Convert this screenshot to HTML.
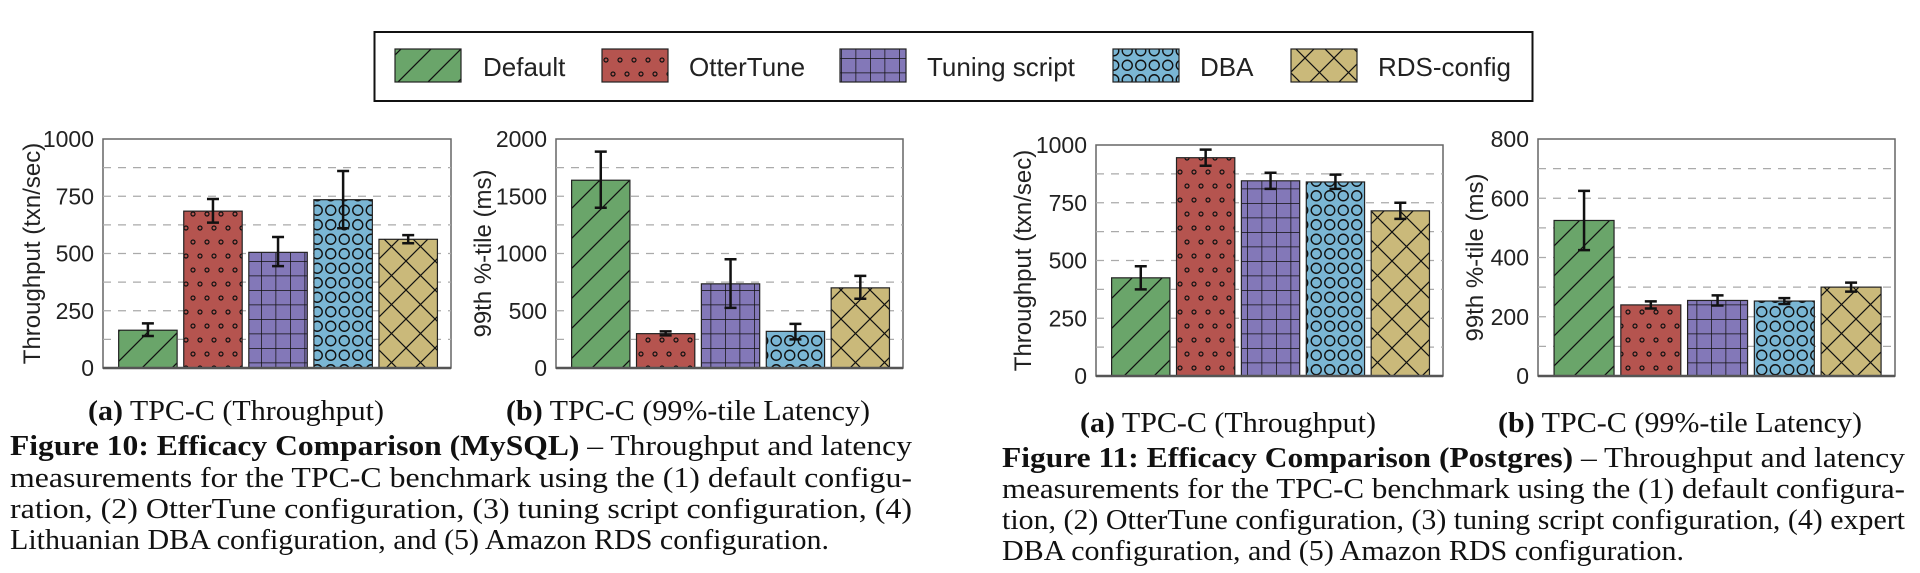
<!DOCTYPE html>
<html><head><meta charset="utf-8"><style>
html,body{margin:0;padding:0;background:#fff;width:1920px;height:573px;overflow:hidden}
svg{display:block}
.s{font-family:"Liberation Sans",sans-serif;fill:#222}
.t{font-family:"Liberation Serif",serif;fill:#111}
</style></head><body>
<svg id="c" xmlns="http://www.w3.org/2000/svg" width="1920" height="573" viewBox="0 0 1920 573">
<defs>
<pattern id="pG" patternUnits="userSpaceOnUse" width="30" height="30"><rect width="30" height="30" fill="#6aa56a"/><path d="M-3,33 L33,-3 M-33,33 L3,-3 M27,33 L63,-3" stroke="#111" stroke-width="1.3"/></pattern>
<pattern id="pR" patternUnits="userSpaceOnUse" width="14" height="28"><rect width="14" height="28" fill="#b5544f"/><circle cx="4" cy="4" r="2" fill="none" stroke="#111" stroke-width="1.2"/><circle cx="11" cy="18" r="2" fill="none" stroke="#111" stroke-width="1.2"/></pattern>
<pattern id="pP" patternUnits="userSpaceOnUse" width="14.5" height="14.5"><rect width="14.5" height="14.5" fill="#8378b8"/><path d="M0,0 V14.5 M0,0 H14.5" stroke="#111" stroke-width="1.5"/></pattern>
<pattern id="pB" patternUnits="userSpaceOnUse" width="13.5" height="14.5"><rect width="13.5" height="14.5" fill="#7ab6d4"/><circle cx="6.75" cy="7.25" r="5" fill="none" stroke="#111" stroke-width="1.4"/></pattern>
<pattern id="pT" patternUnits="userSpaceOnUse" width="29" height="29"><rect width="29" height="29" fill="#cab97a"/><path d="M0,0 L29,29 M0,29 L29,0" stroke="#111" stroke-width="1.2"/></pattern>
</defs>
<rect x="374.5" y="32" width="1158" height="69" fill="#fff" stroke="#111" stroke-width="2"/>
<g id="leg"></g>
<g id="charts"></g>
<g class="t" font-size="29">
<text x="88" y="420" textLength="296" lengthAdjust="spacingAndGlyphs"><tspan font-weight="bold">(a)</tspan> TPC-C (Throughput)</text>
<text x="506" y="420" textLength="364" lengthAdjust="spacingAndGlyphs"><tspan font-weight="bold">(b)</tspan> TPC-C (99%-tile Latency)</text>
<text x="1080" y="432" textLength="296" lengthAdjust="spacingAndGlyphs"><tspan font-weight="bold">(a)</tspan> TPC-C (Throughput)</text>
<text x="1498" y="432" textLength="364" lengthAdjust="spacingAndGlyphs"><tspan font-weight="bold">(b)</tspan> TPC-C (99%-tile Latency)</text>
<text x="10" y="455" textLength="902" lengthAdjust="spacingAndGlyphs"><tspan font-weight="bold">Figure 10:  Efficacy Comparison (MySQL)</tspan> – Throughput and latency</text>
<text x="10" y="487" textLength="902" lengthAdjust="spacingAndGlyphs">measurements for the TPC-C benchmark using the (1) default configu-</text>
<text x="10" y="518" textLength="902" lengthAdjust="spacingAndGlyphs">ration, (2) OtterTune configuration, (3) tuning script configuration, (4)</text>
<text x="10" y="549" textLength="819" lengthAdjust="spacingAndGlyphs">Lithuanian DBA configuration, and (5) Amazon RDS configuration.</text>
<text x="1002" y="467" textLength="903" lengthAdjust="spacingAndGlyphs"><tspan font-weight="bold">Figure 11:  Efficacy Comparison (Postgres)</tspan> – Throughput and latency</text>
<text x="1002" y="498" textLength="903" lengthAdjust="spacingAndGlyphs">measurements for the TPC-C benchmark using the (1) default configura-</text>
<text x="1002" y="529" textLength="903" lengthAdjust="spacingAndGlyphs">tion, (2) OtterTune configuration, (3) tuning script configuration, (4) expert</text>
<text x="1002" y="560" textLength="682" lengthAdjust="spacingAndGlyphs">DBA configuration, and (5) Amazon RDS configuration.</text>
</g>
</svg>
<script>
var NS="http://www.w3.org/2000/svg";
function el(p,t,a,txt){var e=document.createElementNS(NS,t);for(var k in a)e.setAttribute(k,a[k]);if(txt!=null)e.textContent=txt;p.appendChild(e);return e;}
var pats=["pG","pR","pP","pB","pT"];
var leg=document.getElementById("leg");
var L=[[395,483,"Default"],[602,689,"OtterTune"],[840,927,"Tuning script"],[1113,1200,"DBA"],[1291,1378,"RDS-config"]];
L.forEach(function(l,i){el(leg,"rect",{x:l[0],y:49,width:66,height:33,fill:"url(#"+pats[i]+")",stroke:"#222","stroke-width":1.2});
el(leg,"text",{x:l[1],y:76,"class":"s","font-size":26},l[2]);});
var g=document.getElementById("charts");
var C=[
 {x0:103,x1:451,y0:139,y1:368,max:1000,ticks:[0,250,500,750,1000],lab:"Throughput (txn/sec)",lx:32,
  v:[[165,140,195],[685,635,738],[505,445,572],[735,610,860],[562,545,580]]},
 {x0:556,x1:903,y0:139,y1:368,max:2000,ticks:[0,500,1000,1500,2000],lab:"99th %-tile (ms)",lx:483,
  v:[[1640,1400,1890],[300,285,320],[735,525,950],[320,250,385],[700,605,805]]},
 {x0:1096,x1:1443,y0:145,y1:376,max:1000,ticks:[0,250,500,750,1000],lab:"Throughput (txn/sec)",lx:1023,
  v:[[425,375,475],[945,910,980],[845,810,880],[840,810,872],[715,680,750]]},
 {x0:1538,x1:1895,y0:139,y1:376,max:800,ticks:[0,200,400,600,800],lab:"99th %-tile (ms)",lx:1475,
  v:[[525,425,625],[240,228,252],[255,238,272],[253,243,263],[300,285,315]]}
];
C.forEach(function(c){
 var W=c.x1-c.x0,H=c.y1-c.y0;
 function Y(v){return c.y1-v/c.max*H;}
 el(g,"rect",{x:c.x0,y:c.y0,width:W,height:H,fill:"#fff",stroke:"#666","stroke-width":1.5});
 for(var k=1;k<8;k++){var y=c.y1-k*H/8;el(g,"line",{x1:c.x0,x2:c.x1,y1:y,y2:y,stroke:"#aaa","stroke-width":1.2,"stroke-dasharray":"8,7"});}
 c.ticks.forEach(function(t){el(g,"text",{x:c.x0-9,y:Y(t)+8,"text-anchor":"end","class":"s","font-size":23},String(t));});
 var cy=(c.y0+c.y1)/2;
 el(g,"text",{x:c.lx,y:cy,"text-anchor":"middle","class":"s","font-size":24,transform:"rotate(-90 "+c.lx+" "+cy+") translate(0 8)"},c.lab);
 var off=0.045*W,step=0.187*W,bw=0.168*W;
 c.v.forEach(function(v,i){
  var x=c.x0+off+i*step,y=Y(v[0]);
  el(g,"rect",{x:x,y:y,width:bw,height:c.y1-y,fill:"url(#"+pats[i]+")",stroke:"#222","stroke-width":1.2});
  var cx=x+bw/2,a=Y(v[2]),b=Y(v[1]);
  el(g,"path",{d:"M"+cx+","+a+"V"+b+"M"+(cx-6)+","+a+"H"+(cx+6)+"M"+(cx-6)+","+b+"H"+(cx+6),stroke:"#111","stroke-width":2.5,fill:"none"});
 });
 el(g,"line",{x1:c.x0,x2:c.x1,y1:c.y1,y2:c.y1,stroke:"#555","stroke-width":2.5});
});
</script>
</body></html>
